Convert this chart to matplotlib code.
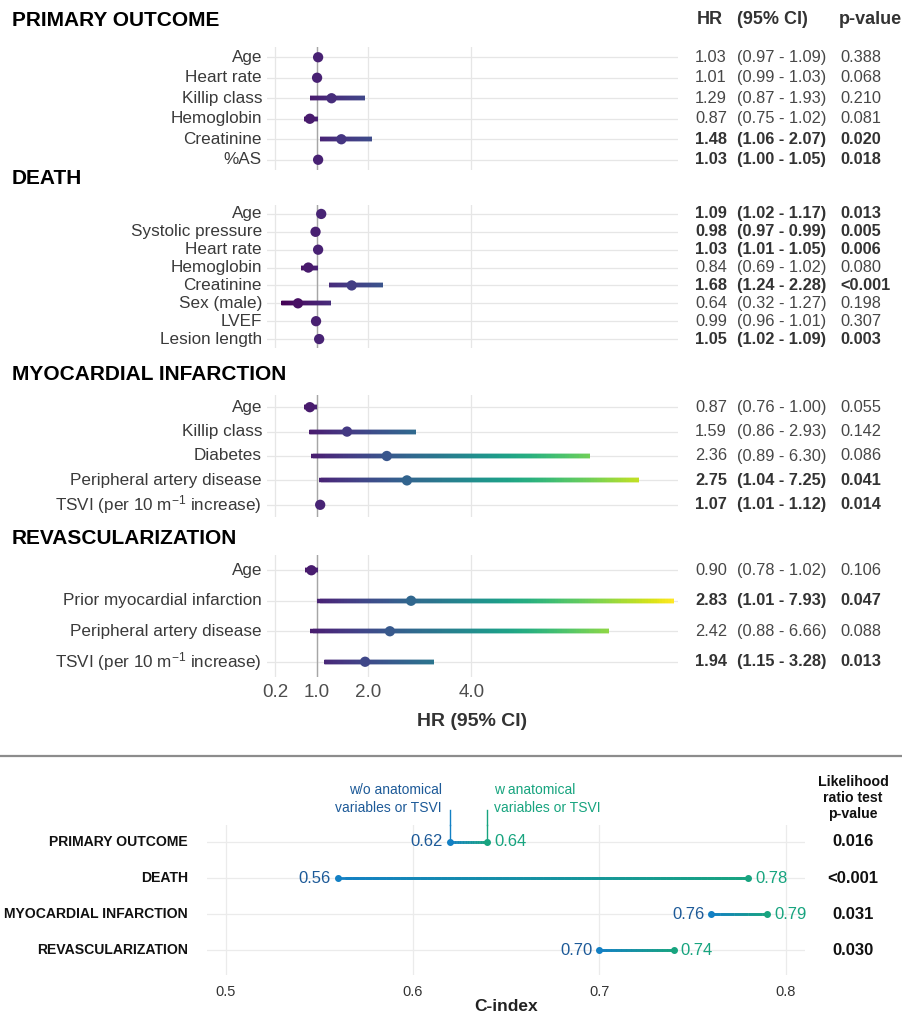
import numpy as np
import matplotlib.pyplot as plt
from matplotlib.collections import LineCollection
from matplotlib.colors import Normalize, LinearSegmentedColormap
from matplotlib.lines import Line2D
from matplotlib.transforms import blended_transform_factory

plt.rcParams['font.family'] = ['Liberation Sans', 'DejaVu Sans']
plt.rcParams['mathtext.fontset'] = 'custom'
plt.rcParams['mathtext.rm'] = 'Liberation Sans'
plt.rcParams['mathtext.default'] = 'regular'

W, H = 902, 1015
tsvi = 'TSVI (per 10 m$^{-1}$ increase)'

# --- hazard ratios per outcome ---
section_names = ['PRIMARY OUTCOME', 'DEATH', 'MYOCARDIAL INFARCTION', 'REVASCULARIZATION']

primary_vars = ['Age', 'Heart rate', 'Killip class', 'Hemoglobin', 'Creatinine', '%AS']
primary_hr = [1.03, 1.01, 1.29, 0.87, 1.48, 1.03]
primary_lo = [0.97, 0.99, 0.87, 0.75, 1.06, 1.00]
primary_hi = [1.09, 1.03, 1.93, 1.02, 2.07, 1.05]
primary_p = ['0.388', '0.068', '0.210', '0.081', '0.020', '0.018']

death_vars = ['Age', 'Systolic pressure', 'Heart rate', 'Hemoglobin', 'Creatinine',
              'Sex (male)', 'LVEF', 'Lesion length']
death_hr = [1.09, 0.98, 1.03, 0.84, 1.68, 0.64, 0.99, 1.05]
death_lo = [1.02, 0.97, 1.01, 0.69, 1.24, 0.32, 0.96, 1.02]
death_hi = [1.17, 0.99, 1.05, 1.02, 2.28, 1.27, 1.01, 1.09]
death_p = ['0.013', '0.005', '0.006', '0.080', '<0.001', '0.198', '0.307', '0.003']

mi_vars = ['Age', 'Killip class', 'Diabetes', 'Peripheral artery disease', tsvi]
mi_hr = [0.87, 1.59, 2.36, 2.75, 1.07]
mi_lo = [0.76, 0.86, 0.89, 1.04, 1.01]
mi_hi = [1.00, 2.93, 6.30, 7.25, 1.12]
mi_p = ['0.055', '0.142', '0.086', '0.041', '0.014']

revasc_vars = ['Age', 'Prior myocardial infarction', 'Peripheral artery disease', tsvi]
revasc_hr = [0.90, 2.83, 2.42, 1.94]
revasc_lo = [0.78, 1.01, 0.88, 1.15]
revasc_hi = [1.02, 7.93, 6.66, 3.28]
revasc_p = ['0.106', '0.047', '0.088', '0.013']

hr_ticks = [0.2, 1.0, 2.0, 4.0]

# --- C-index comparison ---
outcomes = ['PRIMARY OUTCOME', 'DEATH', 'MYOCARDIAL INFARCTION', 'REVASCULARIZATION']
cindex_without = [0.62, 0.56, 0.76, 0.70]
cindex_with = [0.64, 0.78, 0.79, 0.74]
lrt_p = ['0.016', '<0.001', '0.031', '0.030']
cindex_ticks = [0.5, 0.6, 0.7, 0.8]

sections = [
    (primary_vars, primary_hr, primary_lo, primary_hi, primary_p),
    (death_vars, death_hr, death_lo, death_hi, death_p),
    (mi_vars, mi_hr, mi_lo, mi_hi, mi_p),
    (revasc_vars, revasc_hr, revasc_lo, revasc_hi, revasc_p),
]

# panel extents in pixels (top, bottom) and section title heights
panel_px = [(47, 170), (205, 348), (395, 517), (555, 677)]
title_px = [20, 178, 374, 538]


def rect(x0, y0, x1, y1):
    return [x0 / W, 1 - y1 / H, (x1 - x0) / W, (y1 - y0) / H]


def pval(p):
    return float(p.lstrip('<'))


def gradient_segments(x0, x1, y, n):
    # overlapping pieces so no hairline gaps show between them
    xs = np.linspace(x0, x1, n + 1)
    segs = []
    for k in range(n):
        b = xs[min(k + 2, n)]
        segs.append([(xs[k], y), (b, y)])
    return segs, (xs[:-1] + xs[1:]) / 2


fig = plt.figure(figsize=(W / 100, H / 100), dpi=100)

cmap = plt.get_cmap('viridis')
all_lo = min(min(s[2]) for s in sections)
all_hi = max(max(s[3]) for s in sections)
norm = Normalize(all_lo, all_hi)

txt_col = '#3a3a3a'
axes = []
for i, (vars_, hr, lo, hi, p) in enumerate(sections):
    top, bot = panel_px[i]
    ax = fig.add_axes(rect(267, top, 678, bot))
    axes.append(ax)
    n = len(vars_)
    y = np.arange(n)
    ax.set_xlim(0.04, 8.0)
    ax.set_ylim(n - 0.5, -0.5)
    ax.set_xticks(hr_ticks)
    ax.set_yticks(y)
    ax.grid(True, color='#e6e6e6', lw=0.9)
    ax.set_axisbelow(True)
    for s in ax.spines.values():
        s.set_visible(False)
    ax.tick_params(length=0, labelleft=False, labelbottom=False)
    ax.axvline(1.0, color='#a6a6a6', lw=1.0, zorder=1)

    # confidence intervals coloured along the viridis scale
    segs, cols = [], []
    for yi, l, h in zip(y, lo, hi):
        sg, mids = gradient_segments(l, h, yi, 120)
        segs += sg
        cols += [cmap(norm(m)) for m in mids]
    ax.add_collection(LineCollection(segs, colors=cols, linewidths=3.2,
                                     capstyle='butt', zorder=2))
    ax.scatter(hr, y, c=hr, cmap=cmap, norm=norm, s=55, zorder=3,
               edgecolors='none')

    fig.text(12 / W, 1 - title_px[i] / H, section_names[i], fontsize=15,
             fontweight='bold', color='black', va='center', ha='left')

    tr = blended_transform_factory(fig.transFigure, ax.transData)
    for yi, v, h_, l, u, pv in zip(y, vars_, hr, lo, hi, p):
        ax.text(262 / W, yi, v, transform=tr, ha='right', va='center',
                fontsize=12.3, color=txt_col)
        wt = 'bold' if pval(pv) < 0.05 else 'normal'
        col = '#333333' if wt == 'bold' else '#474747'
        ax.text(695 / W, yi, f'{h_:.2f}', transform=tr, ha='left', va='center',
                fontsize=11.8, fontweight=wt, color=col)
        ax.text(737 / W, yi, f'({l:.2f} - {u:.2f})', transform=tr, ha='left',
                va='center', fontsize=11.8, fontweight=wt, color=col)
        ax.text(840 / W, yi, pv, transform=tr, ha='left', va='center',
                fontsize=11.8, fontweight=wt, color=col)

# column headers
for x, s in [(697, 'HR'), (737, '(95% CI)'), (839, 'p-value')]:
    fig.text(x / W, 1 - 20 / H, s, fontsize=13, fontweight='bold',
             color='#333333', ha='left', va='center')

last = axes[-1]
last.tick_params(labelbottom=True, labelsize=13.5, labelcolor='#4d4d4d', pad=5)
last.set_xticklabels([f'{t:.1f}' for t in hr_ticks])
last.set_xlabel('HR (95% CI)', fontsize=14, fontweight='bold', color='#333333',
                labelpad=9)

# separator between the two parts
fig.add_artist(Line2D([0, 1], [1 - 756 / H] * 2, color='#8c8c8c', lw=1.6))

# --- lower panel: C-index with and without anatomical variables ---
blue = '#1380c4'
blue_txt = '#1d5a98'
green = '#17a47f'
grad = LinearSegmentedColormap.from_list('bg', [blue, green])

ax2 = fig.add_axes(rect(207, 825, 805, 975))
ny = len(outcomes)
yy = np.arange(ny)
ax2.set_xlim(0.4898, 0.8103)
ax2.set_ylim(3.69, -0.47)
ax2.set_xticks(cindex_ticks)
ax2.set_yticks(yy)
ax2.grid(True, color='#ebebeb', lw=0.9)
ax2.set_axisbelow(True)
for s in ax2.spines.values():
    s.set_visible(False)
ax2.tick_params(length=0, labelleft=False, labelsize=10.5, labelcolor='#333333',
                pad=7)
ax2.set_xticklabels([f'{t:.1f}' for t in cindex_ticks])
ax2.set_xlabel('C-index', fontsize=12.5, fontweight='bold', color='#222222',
               labelpad=0)

segs, cols = [], []
for yi, a, b in zip(yy, cindex_without, cindex_with):
    sg, mids = gradient_segments(a, b, yi, 60)
    segs += sg
    cols += [grad((m - a) / (b - a)) for m in mids]
ax2.add_collection(LineCollection(segs, colors=cols, linewidths=2.0,
                                  capstyle='butt', zorder=2))
ax2.plot(cindex_without, yy, 'o', color=blue, ms=4, zorder=3)
ax2.plot(cindex_with, yy, 'o', color=green, ms=4, zorder=3)

for yi, a, b in zip(yy, cindex_without, cindex_with):
    ax2.annotate(f'{a:.2f}', (a, yi), xytext=(-5, 0), textcoords='offset points',
                 ha='right', va='center', fontsize=12, color=blue_txt)
    ax2.annotate(f'{b:.2f}', (b, yi), xytext=(5, 0), textcoords='offset points',
                 ha='left', va='center', fontsize=12, color=green)

tr2 = blended_transform_factory(fig.transFigure, ax2.transData)
for yi, name, pv in zip(yy, outcomes, lrt_p):
    ax2.text(188 / W, yi, name, transform=tr2, ha='right', va='center',
             fontsize=10.1, fontweight='bold', color='#111111')
    ax2.text(853 / W, yi, pv, transform=tr2, ha='center', va='center',
             fontsize=12, fontweight='bold', color='#111111')

# callouts for the first row
ax2.plot([cindex_without[0]] * 2, [0, -0.47], color=blue, lw=1.0, zorder=2,
         clip_on=False)
ax2.plot([cindex_with[0]] * 2, [0, -0.47], color=green, lw=1.0, zorder=2,
         clip_on=False)
fig.add_artist(Line2D([450 / W] * 2, [1 - 810 / H, 1 - 825 / H], color=blue, lw=1.0))
fig.add_artist(Line2D([487 / W] * 2, [1 - 810 / H, 1 - 825 / H], color=green, lw=1.0))
fig.text(442 / W, 1 - 799 / H, 'w/o anatomical\nvariables or TSVI', ha='right',
         va='center', fontsize=10, color=blue_txt, linespacing=1.3)
fig.text(494 / W, 1 - 799 / H, 'w anatomical\nvariables or TSVI', ha='left',
         va='center', fontsize=10, color=green, linespacing=1.3)

fig.text(853 / W, 1 - 798 / H, 'Likelihood\nratio test\np-value', ha='center',
         va='center', fontsize=10.2, fontweight='bold', color='#111111',
         linespacing=1.2)

fig.savefig('out.png', dpi=100)
